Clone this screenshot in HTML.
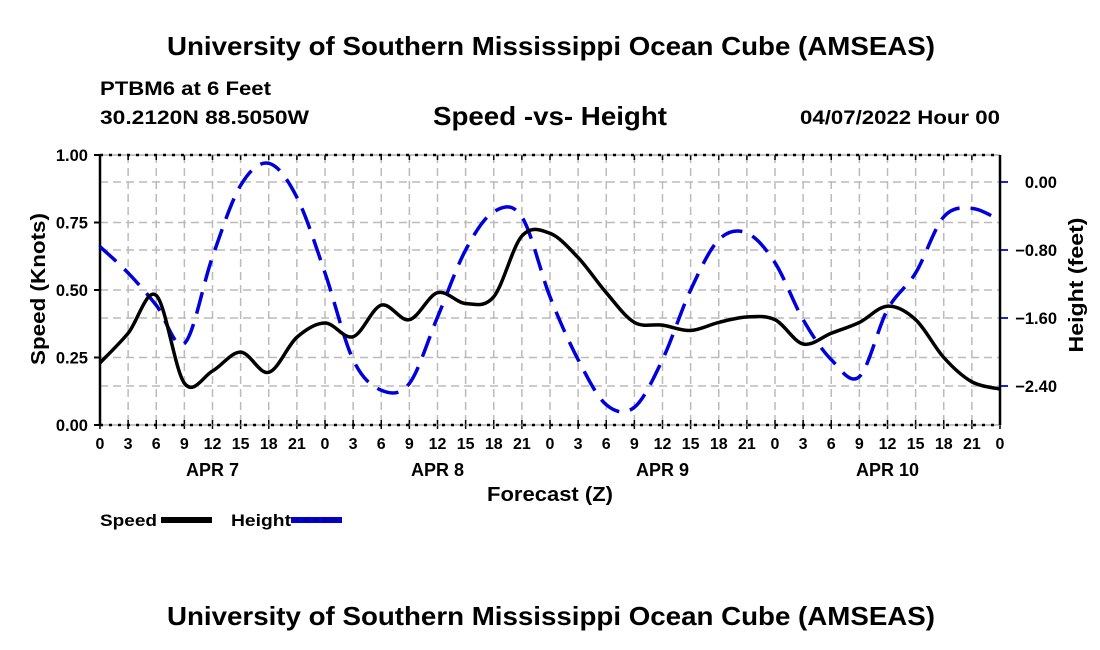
<!DOCTYPE html>
<html><head><meta charset="utf-8"><style>
body{margin:0;background:#fff;}
svg{display:block;font-family:"Liberation Sans",sans-serif;font-weight:bold;}
</style></head><body>
<svg id="chart" width="1100" height="650" viewBox="0 0 1100 650">
<text x="167" y="55" font-size="26" textLength="768" lengthAdjust="spacingAndGlyphs">University of Southern Mississippi Ocean Cube (AMSEAS)</text>
<text x="100" y="95" font-size="19" textLength="171" lengthAdjust="spacingAndGlyphs">PTBM6 at 6 Feet</text>
<text x="100" y="124" font-size="19" textLength="209" lengthAdjust="spacingAndGlyphs">30.2120N  88.5050W</text>
<text x="433" y="125" font-size="26" textLength="234" lengthAdjust="spacingAndGlyphs">Speed -vs- Height</text>
<text x="800" y="124" font-size="19" textLength="200" lengthAdjust="spacingAndGlyphs">04/07/2022 Hour 00</text>
<g id="grid"></g>
<g id="axes"></g>
<g id="series"></g>
<text x="487" y="501" font-size="20" textLength="126" lengthAdjust="spacingAndGlyphs">Forecast (Z)</text>
<text transform="translate(45,289) rotate(-90)" text-anchor="middle" font-size="20" textLength="152" lengthAdjust="spacingAndGlyphs">Speed (Knots)</text>
<text transform="translate(1083,285) rotate(-90)" text-anchor="middle" font-size="20" textLength="135" lengthAdjust="spacingAndGlyphs">Height (feet)</text>
<g>
<text x="100" y="526" font-size="17" textLength="57" lengthAdjust="spacingAndGlyphs">Speed</text>
<rect x="161" y="517" width="51" height="6" fill="#000"/>
<text x="231" y="526" font-size="17" textLength="60" lengthAdjust="spacingAndGlyphs">Height</text>
<rect x="291" y="517" width="51" height="6" fill="#0000dd"/>
<line x1="293" y1="520" x2="342" y2="520" stroke="#000" stroke-width="1" stroke-dasharray="6,4"/>
</g>
<text x="167" y="625" font-size="26" textLength="768" lengthAdjust="spacingAndGlyphs">University of Southern Mississippi Ocean Cube (AMSEAS)</text>
</svg>
<script>
const hours = [0,3,6,9,12,15,18,21,24,27,30,33,36,39,42,45,48,51,54,57,60,63,66,69,72,75,78,81,84,87,90,93,96];
const speed = [0.23,0.34,0.48,0.155,0.20,0.27,0.195,0.325,0.378,0.327,0.444,0.39,0.49,0.45,0.475,0.70,0.71,0.62,0.49,0.38,0.37,0.35,0.38,0.40,0.39,0.30,0.34,0.38,0.44,0.39,0.25,0.16,0.133];
const height = [-0.76,-1.07,-1.45,-1.90,-0.88,-0.04,0.22,-0.18,-1.07,-2.09,-2.45,-2.37,-1.59,-0.80,-0.35,-0.41,-1.35,-2.09,-2.62,-2.65,-2.09,-1.27,-0.68,-0.60,-0.95,-1.62,-2.09,-2.29,-1.50,-1.07,-0.41,-0.31,-0.45];
const speedTicks = [0,0.25,0.5,0.75,1.0];
const heightTicks = [0,-0.8,-1.6,-2.4];
const dayLabels = ["APR 7","APR 8","APR 9","APR 10"];
const dayLabelHours = [12,36,60,84];

const L=100,R=1000,T=155,B=425;
const xs=h=>L+(R-L)*h/96;
const ys=v=>B-(B-T)*v;
const yh=v=>182-85*v;
const NS="http://www.w3.org/2000/svg";
function mk(tag,attrs,parent){const e=document.createElementNS(NS,tag);for(const k in attrs)e.setAttribute(k,attrs[k]);parent.appendChild(e);return e;}
const grid=document.getElementById('grid'),axes=document.getElementById('axes'),series=document.getElementById('series');

for(let h=3;h<96;h+=3){
  const g=mk('line',{x1:xs(h),x2:xs(h),y1:T,y2:B,stroke:'#bbb','stroke-width':1.5,'stroke-dasharray':'8,5'},grid);
  
  
}
speedTicks.forEach(v=>{
  if(v>0&&v<1){const g=mk('line',{x1:L,x2:R,y1:ys(v),y2:ys(v),stroke:'#bbb','stroke-width':1.5,'stroke-dasharray':'8,5'},grid);
  
  }
  mk('line',{x1:L-6,x2:L,y1:ys(v),y2:ys(v),stroke:'#000','stroke-width':2},axes);
  const t=mk('text',{x:L-12,y:ys(v)+6,'text-anchor':'end','font-size':16.5},axes);t.textContent=v.toFixed(2);
  
  
});
heightTicks.forEach(v=>{
  const g=mk('line',{x1:L,x2:R,y1:yh(v),y2:yh(v),stroke:'#bbb','stroke-width':1.5,'stroke-dasharray':'8,5'},grid);
  
  
  mk('line',{x1:R,x2:R+8,y1:yh(v),y2:yh(v),stroke:'#2222cc','stroke-width':2},axes);
  const t=mk('text',{x:1057,y:yh(v)+6,'text-anchor':'end','font-size':16.5},axes);t.textContent=(v===0?"0.00":"\u2212"+Math.abs(v).toFixed(2));
  
  
});
for(let h=0;h<=96;h+=3){
  mk('line',{x1:xs(h),x2:xs(h),y1:B-5,y2:B+4,stroke:'#000','stroke-width':1.5},axes);
  mk('line',{x1:xs(h),x2:xs(h),y1:T,y2:T+5,stroke:'#000','stroke-width':1.5},axes);
  const t=mk('text',{x:xs(h),y:449,'text-anchor':'middle','font-size':16},axes);t.textContent=String(h%24);
  
  
}
dayLabels.forEach((d,i)=>{const t=mk('text',{x:xs(dayLabelHours[i]),y:476,'text-anchor':'middle','font-size':18},axes);t.textContent=d;
  
  });
[T,B].forEach(y=>{mk('line',{x1:L,x2:R,y1:y,y2:y,stroke:'#888','stroke-width':1},axes);
  mk('line',{x1:L,x2:R,y1:y,y2:y,stroke:'#000','stroke-width':2.5,'stroke-dasharray':'3,6'},axes);});
mk('line',{x1:L,x2:L,y1:T,y2:B,stroke:'#000','stroke-width':2.5},axes);
mk('line',{x1:R,x2:R,y1:T,y2:B,stroke:'#000','stroke-width':2.5},axes);

function smooth(pts){
  let d=`M${pts[0][0]},${pts[0][1]}`;
  for(let i=0;i<pts.length-1;i++){
    const p0=pts[i-1]||pts[i],p1=pts[i],p2=pts[i+1],p3=pts[i+2]||p2;
    const c1=[p1[0]+(p2[0]-p0[0])/6,p1[1]+(p2[1]-p0[1])/6];
    const c2=[p2[0]-(p3[0]-p1[0])/6,p2[1]-(p3[1]-p1[1])/6];
    d+=`C${c1[0]},${c1[1]} ${c2[0]},${c2[1]} ${p2[0]},${p2[1]}`;
  }
  return d;
}
const hp=mk('path',{d:smooth(hours.map((h,i)=>[xs(h),yh(height[i])])),fill:'none',stroke:'#0000dd','stroke-width':3.5,'stroke-dasharray':'22,11'},series);


const sp=mk('path',{d:smooth(hours.map((h,i)=>[xs(h),ys(speed[i])])),fill:'none',stroke:'#000','stroke-width':3.5},series);


</script>
</body></html>
